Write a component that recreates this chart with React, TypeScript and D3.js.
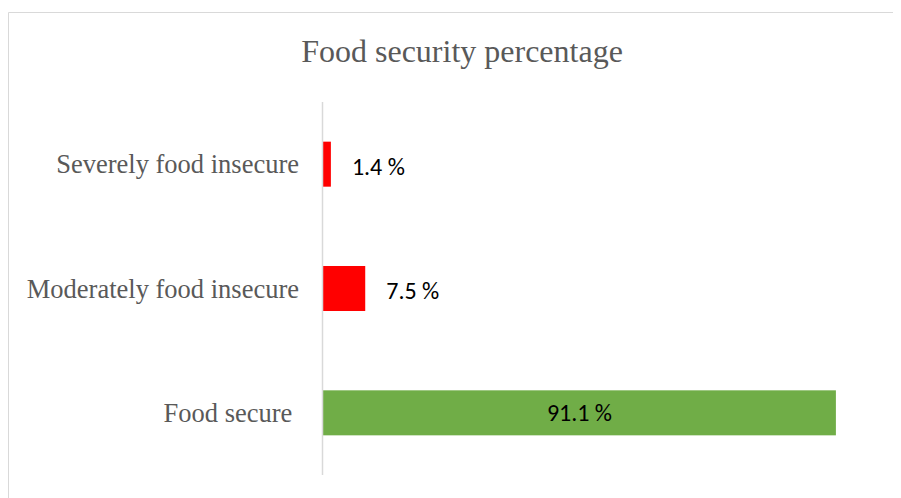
import React from "react";
import * as d3 from "d3";

const categories = ["Severely food insecure", "Moderately food insecure", "Food secure "];
const values = [1.4, 7.5, 91.1];
const labels = ["1.4 %", "7.5 %", "91.1 %"];
const colors = ["#ff0000", "#ff0000", "#70ad47"];
const title = "Food security percentage";

export default function App() {
  const W = 893;
  const H = 490;
  // svg origin is at page (8,8)
  const plotLeft = 315;
  const plotTop = 94;
  const plotBottom = 467;
  const x = d3.scaleLinear().domain([0, 100]).range([plotLeft, plotLeft + 563]);
  const y = d3
    .scaleBand<string>()
    .domain(categories)
    .range([plotTop, plotBottom])
    .paddingInner(0.638)
    .paddingOuter(0.319);

  return (
    <svg width={W} height={H} style={{ display: "block" }}>
      <rect x={0} y={0} width={W} height={H} fill="#ffffff" />
      <line x1={0.5} y1={4.5} x2={W} y2={4.5} stroke="#d9d9d9" strokeWidth={1} />
      <line x1={0.5} y1={4.5} x2={0.5} y2={H} stroke="#d9d9d9" strokeWidth={1} />
      <text
        x={454}
        y={54}
        textAnchor="middle"
        fontFamily="'Liberation Serif', 'Times New Roman', serif"
        fontSize={32}
        fill="#595959"
      >
        {title}
      </text>
      {categories.map((c, i) => (
        <g key={c}>
          <rect
            x={x(0)}
            y={y(c)!}
            width={x(values[i]) - x(0)}
            height={y.bandwidth()}
            fill={colors[i]}
          />
          <text
            x={291}
            y={y(c)! + y.bandwidth() / 2}
            dy="0.35em"
            textAnchor="end"
            fontFamily="'Liberation Serif', 'Times New Roman', serif"
            fontSize={26.5}
            fill="#595959"
            style={{ whiteSpace: "pre" }}
          >
            {c}
          </text>
          {values[i] > 50 ? (
            <text
              x={(x(0) + x(values[i])) / 2}
              y={y(c)! + y.bandwidth() / 2}
              dy="0.35em"
              textAnchor="middle"
              fontFamily="Carlito, 'Liberation Sans', Arial, sans-serif"
              fontSize={24}
              fill="#000000"
            >
              {labels[i]}
            </text>
          ) : (
            <text
              x={x(values[i]) + 21}
              y={y(c)! + y.bandwidth() / 2 + 2}
              dy="0.35em"
              textAnchor="start"
              fontFamily="Carlito, 'Liberation Sans', Arial, sans-serif"
              fontSize={24}
              fill="#000000"
            >
              {labels[i]}
            </text>
          )}
        </g>
      ))}
      <line
        x1={x(0) - 0.5}
        x2={x(0) - 0.5}
        y1={plotTop}
        y2={plotBottom}
        stroke="#d9d9d9"
        strokeWidth={1.5}
      />
    </svg>
  );
}
